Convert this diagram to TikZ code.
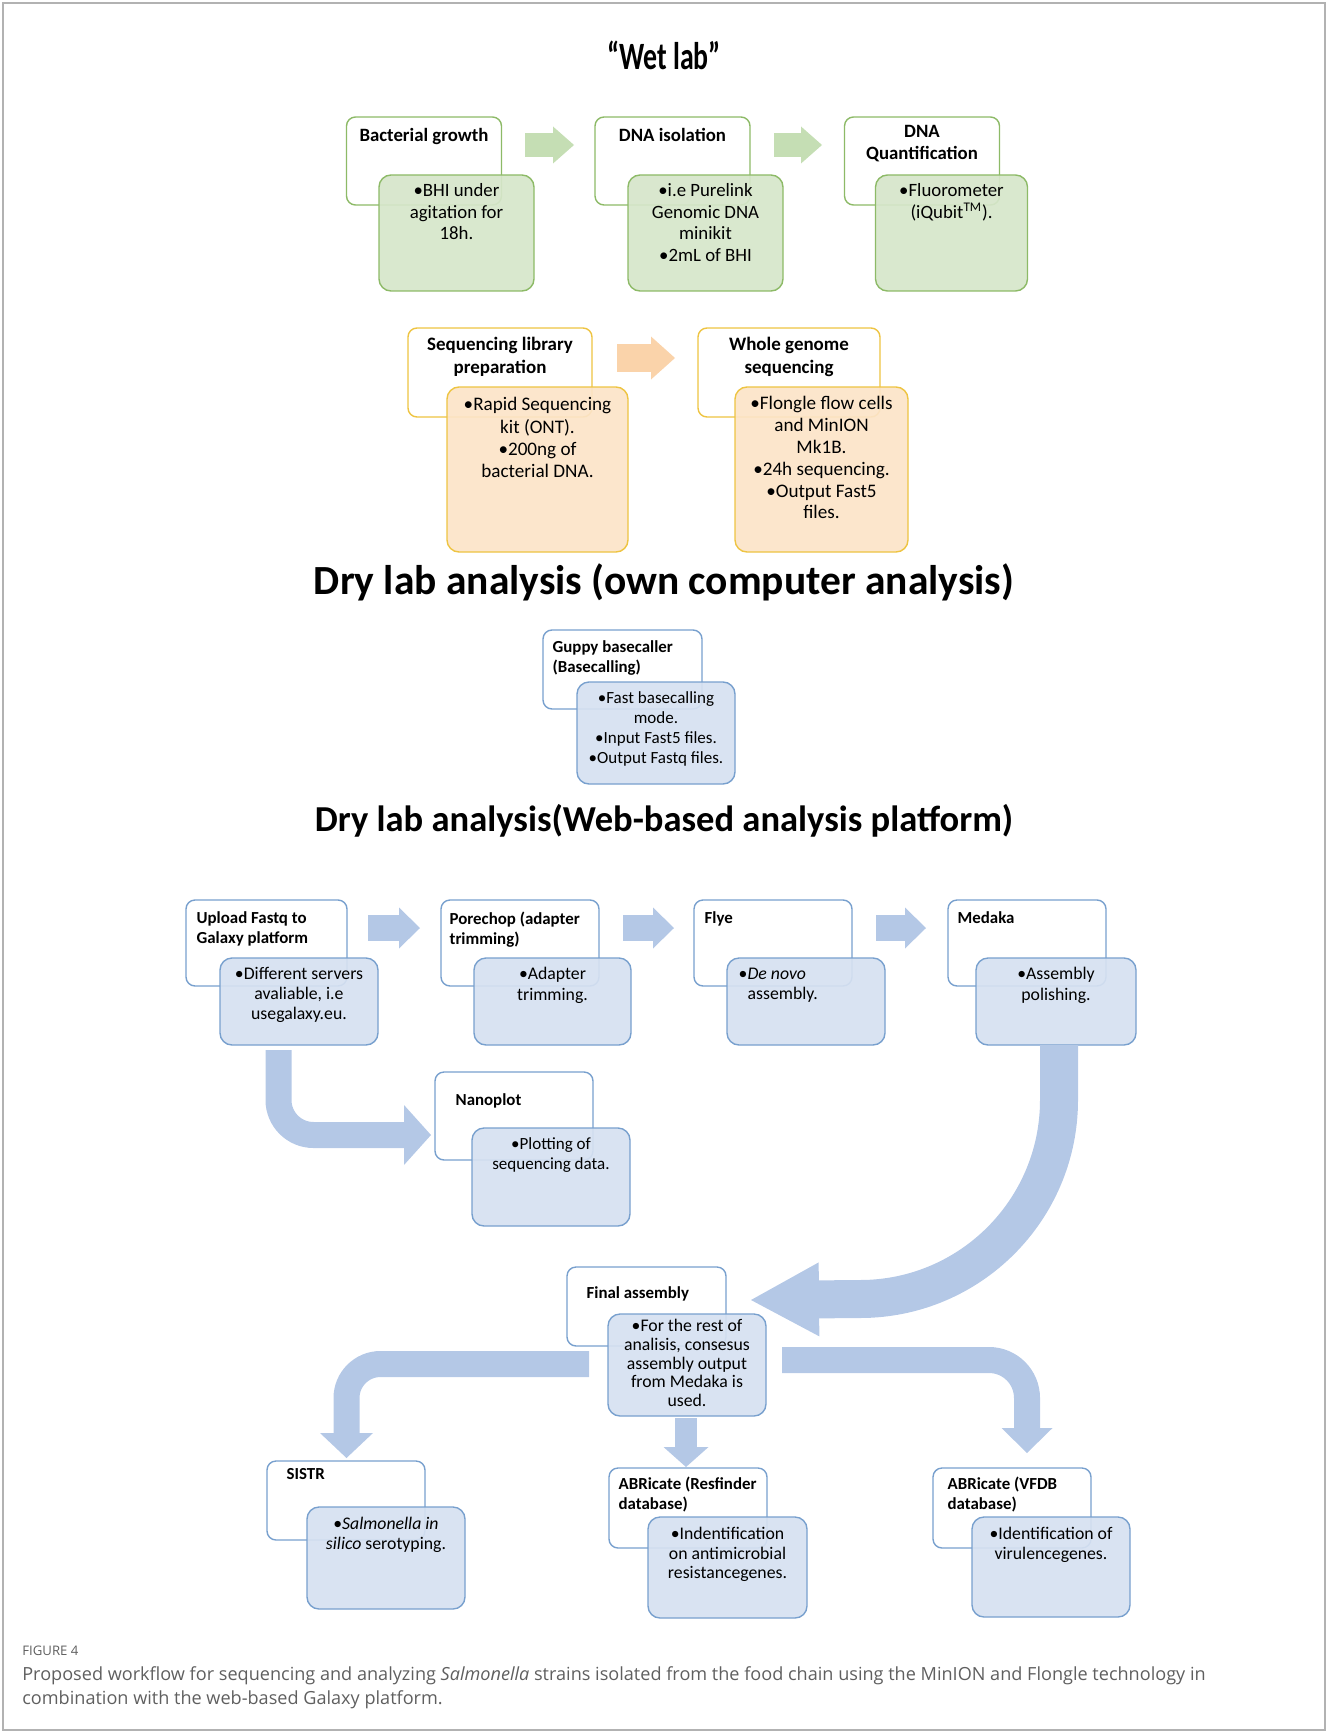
\documentclass[tikz,border=0pt]{standalone}
\usepackage{fontspec}
\setmainfont{Carlito}
\newfontfamily\capfont{Open Sans}
\usetikzlibrary{arrows.meta}
\definecolor{WetLine}{RGB}{141,186,103}
\definecolor{WetFill}{RGB}{214,230,202}
\definecolor{WetArrow}{RGB}{197,222,180}
\definecolor{SeqLine}{RGB}{238,196,66}
\definecolor{SeqFill}{RGB}{252,228,200}
\definecolor{SeqArrow}{RGB}{250,211,170}
\definecolor{DryLine}{RGB}{120,160,206}
\definecolor{DryFill}{RGB}{214,225,241}
\definecolor{DryArrow}{RGB}{180,200,230}
\definecolor{CapGray}{RGB}{95,95,95}
\newlength{\pxu}
\setlength{\pxu}{0.02cm}

\begin{document}
\begin{tikzpicture}[x=1\pxu,y=-1\pxu,
wbox/.style n args={3}{rectangle,draw=#1,fill=white,line width=1.4\pxu,rounded corners=9\pxu,minimum width=#2\pxu,minimum height=#3\pxu,inner sep=0pt},
cbox/.style n args={4}{rectangle,draw=#1,fill=#2,fill opacity=0.92,line width=1.4\pxu,rounded corners=12\pxu,minimum width=#3\pxu,minimum height=#4\pxu,inner sep=0pt},
head/.style={font=\fontsize{9.6}{11.6}\selectfont\bfseries,inner sep=0pt,align=center},
lhead/.style={head,align=left,anchor=north west},
body/.style={font=\fontsize{10.1}{11.4}\selectfont,inner sep=0pt,align=center,anchor=north},
wethead/.style={head,anchor=north,font=\fontsize{10.7}{12.3}\selectfont\bfseries},
wetbody/.style={body,font=\fontsize{10.7}{12.3}\selectfont},
seqhead/.style={head,anchor=north,font=\fontsize{10.8}{12.6}\selectfont\bfseries},
seqbody/.style={body,font=\fontsize{10.9}{12.7}\selectfont},
sect/.style={font=\fontsize{22}{26}\selectfont\bfseries,inner sep=0pt},
barrow/.style n args={4}{draw=#1,line width=#2\pxu,-{Triangle[width=#3*0.02cm,length=#4*0.02cm,line width=0pt]}}]
\useasboundingbox (0,0) rectangle (1328,1733);
\draw[gray!60,line width=1.5\pxu] (3,3) rectangle (1325,1730);

% wet lab
\node[sect] (wet) at (664,55) {\scalebox{0.72}[1]{“Wet lab”}};
\node[wbox={WetLine}{155}{88}] (g1) at (424,161) {};
\node[cbox={WetLine}{WetFill}{155}{116}] (g1b) at (456.5,233) {};
\node[wethead] (g1t) at ([yshift=-12\pxu]g1.north) {Bacterial growth};
\node[wetbody] (g1x) at ([yshift=-9\pxu]g1b.north) {•BHI under\\agitation for\\18h.};
\node[wbox={WetLine}{155}{88}] (g2) at (672.5,161) {};
\node[cbox={WetLine}{WetFill}{155}{116}] (g2b) at (705.5,233) {};
\node[wethead] (g2t) at ([yshift=-12\pxu]g2.north) {DNA isolation};
\node[wetbody] (g2x) at ([yshift=-9\pxu]g2b.north) {•i.e Purelink\\Genomic DNA\\minikit\\•2mL of BHI};
\node[wbox={WetLine}{155}{88}] (g3) at (922,161) {};
\node[cbox={WetLine}{WetFill}{152}{116}] (g3b) at (951.5,233) {};
\node[wethead] (g3t) at ([yshift=-9\pxu]g3.north) {DNA\\Quantification};
\node[wetbody] (g3x) at ([yshift=-9\pxu]g3b.north) {•Fluorometer\\(iQubit\textsuperscript{TM}).};
\coordinate (ga1) at (525,145);
\coordinate (ga1e) at (574,145);
\coordinate (ga2) at (774,145);
\coordinate (ga2e) at (822,145);
\draw[barrow={WetArrow}{24}{37}{21}] (ga1) -- (ga1e);
\draw[barrow={WetArrow}{24}{37}{21}] (ga2) -- (ga2e);

% sequencing
\node[wbox={SeqLine}{184}{89}] (s1) at (500,372.5) {};
\node[cbox={SeqLine}{SeqFill}{181}{165}] (s1b) at (537.5,469.5) {};
\node[seqhead] (s1t) at ([yshift=-10\pxu]s1.north) {Sequencing library\\preparation};
\node[seqbody] (s1x) at ([yshift=-11\pxu]s1b.north) {•Rapid Sequencing\\kit (ONT).\\•200ng of\\bacterial DNA.};
\node[wbox={SeqLine}{182}{89}] (s2) at (789,372.5) {};
\node[cbox={SeqLine}{SeqFill}{173}{165}] (s2b) at (821.5,469.5) {};
\node[seqhead] (s2t) at ([yshift=-10\pxu]s2.north) {Whole genome\\sequencing};
\node[seqbody,font=\fontsize{10.9}{12.4}\selectfont] (s2x) at ([yshift=-10\pxu]s2b.north) {•Flongle flow cells\\and MinION\\Mk1B.\\•24h sequencing.\\•Output Fast5\\files.};
\coordinate (sa1) at (617,358);
\coordinate (sa1e) at (675,358);
\draw[barrow={SeqArrow}{28}{43}{24}] (sa1) -- (sa1e);

% own computer
\node[sect,font=\fontsize{23.6}{27}\selectfont\bfseries] (dry1) at (664,582) {Dry lab analysis (own computer analysis)};
\node[wbox={DryLine}{159}{79}] (gp) at (622.5,669.5) {};
\node[cbox={DryLine}{DryFill}{158}{102}] (gpb) at (656,733) {};
\node[lhead] (gpt) at ([xshift=10\pxu,yshift=-11\pxu]gp.north west) {Guppy basecaller\\(Basecalling)};
\node[body,font=\fontsize{9.7}{11.3}\selectfont] (gpx) at ([yshift=-10\pxu]gpb.north) {•Fast basecalling\\mode.\\•Input Fast5 files.\\•Output Fastq files.};

% web platform
\node[sect,font=\fontsize{20.8}{25}\selectfont\bfseries] (dry2) at (664,821) {Dry lab analysis(Web-based analysis platform)};
\node[wbox={DryLine}{161}{86}] (w1) at (266.5,943) {};
\node[cbox={DryLine}{DryFill}{158}{87}] (w1b) at (299,1001.5) {};
\node[lhead] (w1t) at ([xshift=11\pxu,yshift=-12\pxu]w1.north west) {Upload Fastq to\\Galaxy platform};
\node[body] (w1x) at ([yshift=-10\pxu]w1b.north) {•Different servers\\avaliable, i.e\\usegalaxy.eu.};
\node[wbox={DryLine}{158}{86}] (w2) at (520,943) {};
\node[cbox={DryLine}{DryFill}{157}{87}] (w2b) at (552.5,1001.5) {};
\node[lhead] (w2t) at ([xshift=9\pxu,yshift=-12\pxu]w2.north west) {Porechop (adapter\\trimming)};
\node[body] (w2x) at ([yshift=-10\pxu]w2b.north) {•Adapter\\trimming.};
\node[wbox={DryLine}{158}{86}] (w3) at (773,943) {};
\node[cbox={DryLine}{DryFill}{158}{87}] (w3b) at (806,1001.5) {};
\node[lhead] (w3t) at ([xshift=11\pxu,yshift=-12\pxu]w3.north west) {Flye};
\node[body,align=left,anchor=north west] (w3x) at ([xshift=12\pxu,yshift=-10\pxu]w3b.north west) {•\textit{De novo}\\\hspace*{9\pxu}assembly.};
\node[wbox={DryLine}{158}{86}] (w4) at (1027,943) {};
\node[cbox={DryLine}{DryFill}{160}{87}] (w4b) at (1056,1001.5) {};
\node[lhead] (w4t) at ([xshift=10\pxu,yshift=-12\pxu]w4.north west) {Medaka};
\node[body] (w4x) at ([yshift=-10\pxu]w4b.north) {•Assembly\\polishing.};
\coordinate (wa1) at (368,928);
\coordinate (wa1e) at (420,928);
\coordinate (wa2) at (623,928);
\coordinate (wa2e) at (674,928);
\coordinate (wa3) at (876,928);
\coordinate (wa3e) at (926,928);
\draw[barrow={DryArrow}{26}{41}{21}] (wa1) -- (wa1e);
\draw[barrow={DryArrow}{26}{41}{21}] (wa2) -- (wa2e);
\draw[barrow={DryArrow}{26}{41}{21}] (wa3) -- (wa3e);

\node[wbox={DryLine}{158}{88}] (np) at (514,1116) {};
\node[cbox={DryLine}{DryFill}{158}{98}] (npb) at (551,1177) {};
\node[lhead] (npt) at ([xshift=21\pxu,yshift=-22\pxu]np.north west) {Nanoplot};
\node[body,font=\fontsize{9.7}{11.3}\selectfont] (npx) at ([yshift=-10\pxu]npb.north) {•Plotting of\\sequencing data.};
\coordinate (up1) at (278.5,1050);
\coordinate (up2) at (431,1135);
\draw[barrow={DryArrow}{26}{60}{27},rounded corners=35\pxu] (up1) |- (up2);

% final assembly
\node[wbox={DryLine}{159}{79}] (fa) at (646.5,1306.5) {};
\node[cbox={DryLine}{DryFill}{158}{102}] (fab) at (687,1365) {};
\node[lhead] (fat) at ([xshift=20\pxu,yshift=-20\pxu]fa.north west) {Final assembly};
\node[body,font=\fontsize{10.1}{10.6}\selectfont] (fax) at ([yshift=-6\pxu]fab.north) {•For the rest of\\analisis, consesus\\assembly output\\from Medaka is\\used.};
\coordinate (md1) at (1059,1045);
\coordinate (md2) at (751,1300);
\draw[barrow={DryArrow}{38}{74}{68}] (md1) -- (1059,1100) arc[start angle=0,end angle=-90,radius=199\pxu] -- (md2);

% bottom tools
\node[wbox={DryLine}{158}{79}] (si) at (346,1500.5) {};
\node[cbox={DryLine}{DryFill}{158}{102}] (sib) at (386,1558) {};
\node[lhead] (sit) at ([xshift=20\pxu,yshift=-8\pxu]si.north west) {SISTR};
\node[body,font=\fontsize{10.1}{11}\selectfont] (six) at ([yshift=-11\pxu]sib.north) {•\textit{Salmonella in}\\\textit{silico} serotyping.};
\node[wbox={DryLine}{158}{80}] (rf) at (688,1508) {};
\node[cbox={DryLine}{DryFill}{159}{101}] (rfb) at (727.5,1567.5) {};
\node[lhead] (rft) at ([xshift=10\pxu,yshift=-9\pxu]rf.north west) {ABRicate (Resfinder\\database)};
\node[body,font=\fontsize{10.1}{11}\selectfont] (rfx) at ([yshift=-11\pxu]rfb.north) {•Indentification\\on antimicrobial\\resistancegenes.};
\node[wbox={DryLine}{158}{80}] (vf) at (1012,1508) {};
\node[cbox={DryLine}{DryFill}{158}{100}] (vfb) at (1051,1567) {};
\node[lhead] (vft) at ([xshift=15\pxu,yshift=-9\pxu]vf.north west) {ABRicate (VFDB\\database)};
\node[body,font=\fontsize{10.1}{11}\selectfont] (vfx) at ([yshift=-11\pxu]vfb.north) {•Identification of\\virulencegenes.};
\coordinate (fa1) at (589,1364);
\coordinate (sitip) at (346.5,1458);
\coordinate (fa2) at (782,1360);
\coordinate (vftip) at (1027,1453);
\coordinate (fa3) at (686,1418);
\coordinate (rftip) at (686,1467);
\draw[barrow={DryArrow}{26}{53}{25},rounded corners=34\pxu] (fa1) -| (sitip);
\draw[barrow={DryArrow}{26}{51}{25},rounded corners=38\pxu] (fa2) -| (vftip);
\draw[barrow={DryArrow}{22}{45}{20}] (fa3) -- (rftip);

% caption
\node[anchor=base west,inner sep=0pt,font=\capfont\fontsize{7.5}{9}\selectfont,text=CapGray] (fig) at (22,1655) {FIGURE 4};
\node[anchor=base west,inner sep=0pt,align=left,font=\capfont\fontsize{10.3}{13.6}\selectfont,text=CapGray] (cap) at (22,1704) {Proposed workflow for sequencing and analyzing \textit{Salmonella} strains isolated from the food chain using the MinION and Flongle technology in\\combination with the web-based Galaxy platform.};
\end{tikzpicture}
\end{document}
